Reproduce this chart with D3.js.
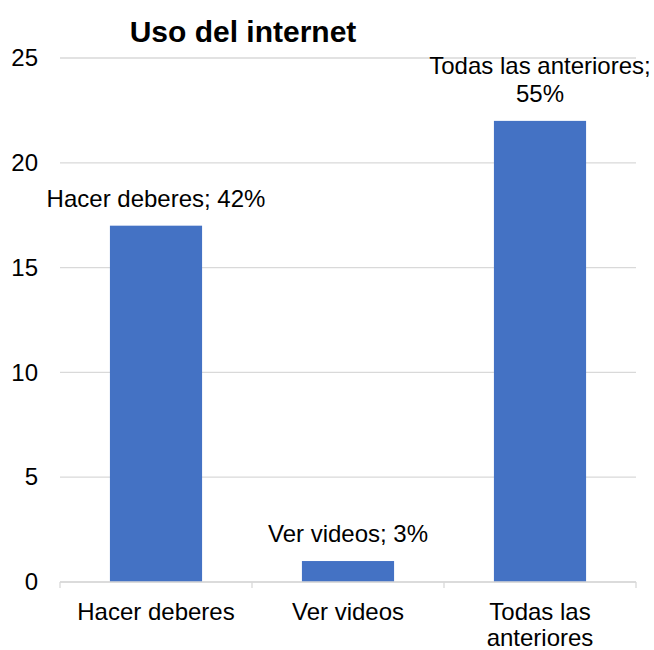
<!DOCTYPE html>
<html>
<head>
<meta charset="utf-8">
<script src="https://cdn.jsdelivr.net/npm/d3@7"></script>
<style>
  body { margin: 0; background: #fff; }
  text { font-family: "Liberation Sans", Arial, sans-serif; fill: #000; }
</style>
</head>
<body>
<svg id="chart"></svg>
<script>
  // chart data
  const categories = ["Hacer deberes", "Ver videos", "Todas las anteriores"];
  const values = [17, 1, 22];
  const pctLabels = ["42%", "3%", "55%"];
  const yTicks = [0, 5, 10, 15, 20, 25];
  const chartTitle = "Uso del internet";

  const width = 654;
  const height = 650;
  const margin = { top: 58, right: 18, bottom: 68, left: 60 };
  const innerW = width - margin.left - margin.right;
  const innerH = height - margin.top - margin.bottom;

  const svg = d3.select('#chart')
    .attr('width', width)
    .attr('height', height);

  const g = svg.append('g')
    .attr('transform', `translate(${margin.left},${margin.top})`);

  // Scales setup
  const xscale = d3.scaleBand().domain(categories).range([0, innerW]).paddingInner(0.52).paddingOuter(0.26);
  const xband = d3.scaleBand().domain(categories).range([0, innerW]);
  const yscale = d3.scaleLinear().domain([0, 25]).range([innerH, 0]);

  // gridlines
  g.append('g').selectAll('line').data(yTicks).join('line')
    .attr('x1', 0).attr('x2', innerW)
    .attr('y1', (d) => yscale(d)).attr('y2', (d) => yscale(d))
    .attr('stroke', '#d9d9d9').attr('stroke-width', 1.3);

  // y axis labels
  const yaxis = d3.axisLeft(yscale).tickValues(yTicks).tickSize(0).tickPadding(22);
  const g_yaxis = g.append('g').call(yaxis);
  g_yaxis.select('.domain').remove();
  g_yaxis.selectAll('text').style('font-size', '24px').attr('fill', '#000');

  // bars
  g.append('g').selectAll('rect').data(values).join('rect')
    .attr('x', (d, i) => xscale(categories[i]))
    .attr('width', xscale.bandwidth())
    .attr('y', (d) => yscale(d))
    .attr('height', (d) => innerH - yscale(d))
    .attr('fill', '#4472C4');

  // x axis with tick marks at band boundaries
  const g_xaxis = g.append('g').attr('transform', `translate(0,${innerH})`);
  g_xaxis.append('line').attr('x1', 0).attr('x2', innerW)
    .attr('stroke', '#d9d9d9').attr('stroke-width', 1.3);
  const bounds = categories.map((c) => xband(c)).concat([innerW]);
  g_xaxis.selectAll('line.tick').data(bounds).join('line')
    .attr('class', 'tick')
    .attr('x1', (d) => d).attr('x2', (d) => d)
    .attr('y1', 0).attr('y2', 6)
    .attr('stroke', '#d9d9d9').attr('stroke-width', 1.3);

  // simple word wrap
  function wrapText(textSel, maxW, lineH) {
    textSel.each(function () {
      const t = d3.select(this);
      const words = t.text().split(' ');
      const x = t.attr('x');
      t.text(null);
      let lines = [];
      let cur = [];
      let tspan = t.append('tspan').attr('x', x);
      words.forEach((w) => {
        cur.push(w);
        tspan.text(cur.join(' '));
        if (tspan.node().getComputedTextLength() > maxW && cur.length > 1) {
          cur.pop();
          lines.push(cur.join(' '));
          cur = [w];
          tspan.text(w);
        }
      });
      lines.push(cur.join(' '));
      t.text(null);
      lines.forEach((l, i) => {
        t.append('tspan').attr('x', x).attr('dy', i === 0 ? 0 : lineH).text(l);
      });
      t.property('nLines', lines.length);
    });
  }

  // category labels
  g_xaxis.selectAll('text.cat').data(categories).join('text')
    .attr('class', 'cat')
    .attr('x', (d) => xband(d) + xband.bandwidth() / 2)
    .attr('y', 38)
    .attr('text-anchor', 'middle')
    .style('font-size', '24px')
    .text((d) => d)
    .call(wrapText, xband.bandwidth() - 6, 26);

  // data labels
  const labels = g.append('g').selectAll('text').data(values).join('text')
    .attr('x', (d, i) => xscale(categories[i]) + xscale.bandwidth() / 2)
    .attr('text-anchor', 'middle')
    .style('font-size', '24px')
    .text((d, i) => `${categories[i]}; ${pctLabels[i]}`)
    .call(wrapText, 240, 28);
  labels.attr('y', function (d) {
    const n = d3.select(this).property('nLines');
    return yscale(d) - 19 - (n - 1) * 28;
  });

  // title
  svg.append('text')
    .attr('x', 243)
    .attr('y', 42)
    .attr('text-anchor', 'middle')
    .style('font-size', '30px')
    .style('font-weight', 'bold')
    .text(chartTitle);
</script>
</body>
</html>
